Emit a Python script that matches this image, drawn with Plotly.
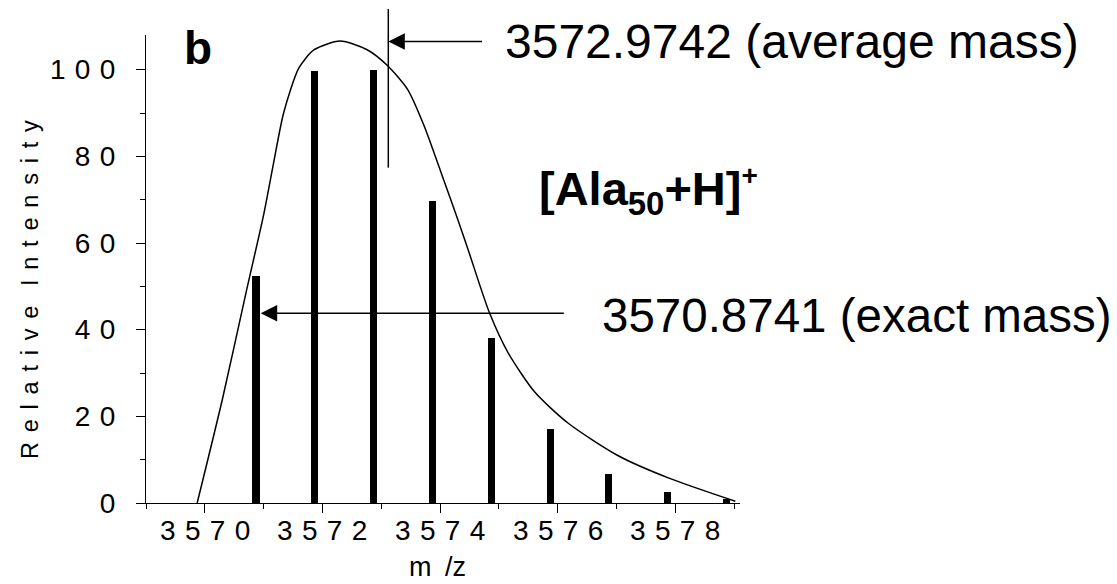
import plotly.graph_objects as go

# ---------------- data ----------------
peak_mz = [3570.87, 3571.87, 3572.87, 3573.87, 3574.87, 3575.87, 3576.87, 3577.87, 3578.87]
peak_intensity = [52.3, 99.6, 100.0, 69.8, 38.1, 17.1, 6.8, 2.5, 0.9]

envelope_mz = [3569.87, 3570.3, 3570.7, 3571.0, 3571.17, 3571.34, 3571.6,
               3571.86, 3572.3, 3572.76, 3573.1, 3573.45, 3573.73, 3574.05, 3574.3,
               3574.5, 3574.84, 3575.16, 3575.61, 3576.18, 3577.03, 3577.88, 3579.02]
envelope_intensity = [0.0, 24.0, 48.5, 66.5, 78.5, 90.0, 100.4,
                      104.6, 106.6, 104.6, 101.0, 95.4, 87.0, 75.0, 65.5,
                      57.5, 43.9, 34.6, 25.6, 18.4, 10.9, 5.8, 0.4]

x_tick_vals = [3570, 3572, 3574, 3576, 3578]
x_minor_vals = [3569, 3571, 3573, 3575, 3577, 3579]
y_tick_vals = [0, 20, 40, 60, 80, 100]
y_minor_vals = [10, 30, 50, 70, 90]

avg_mass_label = "3572.9742 (average mass)"
exact_mass_label = "3570.8741 (exact mass)"
avg_line_mz = 3573.12        # where the average-mass marker is drawn
avg_line_bottom, avg_line_top = 77.4, 114.0
avg_arrow_y, avg_arrow_tail = 106.5, 3574.74
exact_arrow_tip, exact_arrow_y, exact_arrow_tail = 3570.95, 43.8, 3576.13

X_RANGE = [3569.0, 3579.1]
Y_RANGE = [0, 108]

FONT = "Liberation Sans, Arial, sans-serif"
TICK_GAP = "\u2004"
TITLE_GAP = "\u2005\u2006"


def spaced(s, gap=TICK_GAP):
    return gap.join(list(s))


fig = go.Figure()

fig.add_trace(go.Bar(x=peak_mz, y=peak_intensity, width=0.12,
                     marker=dict(color="black", line=dict(width=0)),
                     showlegend=False, hoverinfo="skip"))

fig.add_trace(go.Scatter(x=envelope_mz, y=envelope_intensity, mode="lines",
                         line=dict(color="black", width=1.5, shape="spline", smoothing=0.7),
                         showlegend=False, hoverinfo="skip"))

# average-mass vertical marker (extends above the plot area)
fig.add_shape(type="line", xref="x", yref="paper",
              x0=avg_line_mz, x1=avg_line_mz,
              y0=avg_line_bottom / Y_RANGE[1], y1=avg_line_top / Y_RANGE[1],
              line=dict(color="black", width=1.5))

arrow_common = dict(xref="x", yref="y", axref="x", ayref="y", text="", showarrow=True,
                    arrowhead=2, arrowsize=2.2, arrowwidth=1.5, arrowcolor="black", standoff=0)
fig.add_annotation(x=avg_line_mz, y=avg_arrow_y, ax=avg_arrow_tail, ay=avg_arrow_y, **arrow_common)
fig.add_annotation(x=exact_arrow_tip, y=exact_arrow_y, ax=exact_arrow_tail, ay=exact_arrow_y, **arrow_common)

fig.add_annotation(x=3575.07, y=avg_arrow_y, xref="x", yref="y", text=avg_mass_label,
                   showarrow=False, xanchor="left", yanchor="middle",
                   font=dict(family=FONT, size=48, color="black"))
fig.add_annotation(x=3576.72, y=exact_arrow_y - 0.6, xref="x", yref="y", text=exact_mass_label,
                   showarrow=False, xanchor="left", yanchor="middle",
                   font=dict(family=FONT, size=47.5, color="black"))
fig.add_annotation(x=3575.65, y=72, xref="x", yref="y",
                   text="<b>[Ala<sub>50</sub>+H]<sup><span style='font-size:28px'>+</span></sup></b>",
                   showarrow=False, xanchor="left", yanchor="middle",
                   font=dict(family=FONT, size=47, color="black"))
fig.add_annotation(x=3569.62, y=105, xref="x", yref="y", text="<b>b</b>",
                   showarrow=False, xanchor="left", yanchor="middle",
                   font=dict(family=FONT, size=46, color="black"))

# x tick labels, placed at the tick values just under the axis
for v in x_tick_vals:
    fig.add_annotation(x=v, y=0, xref="x", yref="paper", yshift=-27,
                       text=spaced(str(v)), showarrow=False, xanchor="center", yanchor="middle",
                       font=dict(family=FONT, size=28, color="black"))

# axis titles
fig.add_annotation(x=0.49, y=0, xref="paper", yref="paper", yshift=-64,
                   text="m\u2002/z", showarrow=False, xanchor="center", yanchor="middle",
                   font=dict(family=FONT, size=27, color="black"))
fig.add_annotation(x=0, y=0.455, xref="paper", yref="paper", xshift=-116,
                   text=spaced("Relative", TITLE_GAP) + TITLE_GAP + TITLE_GAP + spaced("Intensity", TITLE_GAP),
                   textangle=-90, showarrow=False, xanchor="center", yanchor="middle",
                   font=dict(family=FONT, size=23.5, color="black"))

axis_common = dict(showline=True, linecolor="black", linewidth=1.2, showgrid=False, zeroline=False,
                   ticks="outside", ticklen=9, tickwidth=1.2, tickcolor="black",
                   tickfont=dict(family=FONT, size=28, color="black"))

fig.update_xaxes(range=X_RANGE, tickmode="array", tickvals=x_tick_vals,
                 showticklabels=False,
                 minor=dict(tickmode="array", tickvals=x_minor_vals, ticks="outside",
                            ticklen=5, tickwidth=1.2, tickcolor="black"),
                 **axis_common)
fig.update_yaxes(range=Y_RANGE, tickmode="array", tickvals=y_tick_vals,
                 ticktext=[spaced(str(v)) for v in y_tick_vals],
                 minor=dict(tickmode="array", tickvals=y_minor_vals, ticks="outside",
                            ticklen=5, tickwidth=1.2, tickcolor="black"),
                 ticklabelstandoff=15,
                 **axis_common)

fig.update_layout(width=1117, height=584, margin=dict(l=146, r=377, t=35, b=81),
                  plot_bgcolor="white", paper_bgcolor="white", bargap=0,
                  font=dict(family=FONT, color="black"))

fig.write_html("out.html")
